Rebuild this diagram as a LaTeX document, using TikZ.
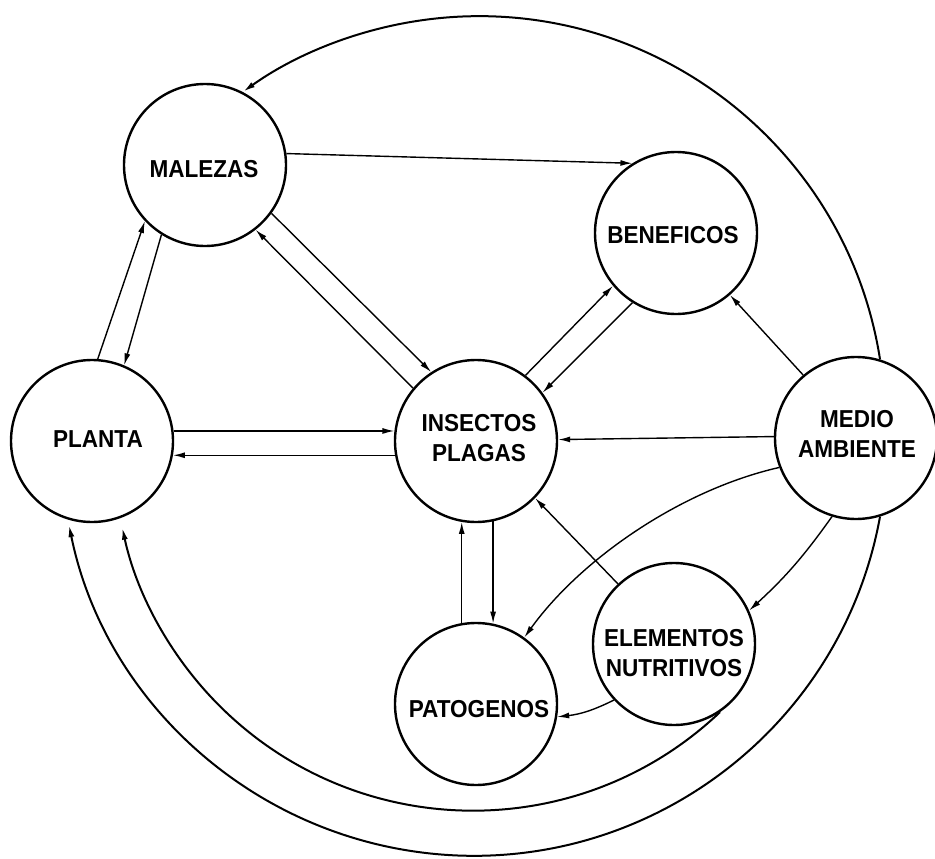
\documentclass[tikz,border=0pt]{standalone}
\usepackage{fontspec}
\newfontfamily\lblfont{Liberation Sans}[FakeStretch=0.92]
\usetikzlibrary{arrows.meta}
\begin{document}
\begin{tikzpicture}[x=1pt,y=1pt,
  stage/.style={circle, draw, line width=2.4pt, minimum size=162pt, inner sep=0pt},
  lbl/.style={font=\lblfont\bfseries\fontsize{24.5}{30}\selectfont, align=center, inner sep=0pt},
  conn/.style={line width=1.4pt, -{Latex[length=12pt,width=6pt]}},
  ring/.style={line width=2pt, -{Latex[length=12pt,width=6pt]}}]
\useasboundingbox (0,0) rectangle (935,-859);

% components of the system
\node[stage] (mal) at (205,-165) {};
\node[stage] (ben) at (676,-233) {};
\node[stage] (pla) at (92,-441) {};
\node[stage] (ins) at (476,-441) {};
\node[stage] (med) at (856,-438) {};
\node[stage] (ele) at (674,-644) {};
\node[stage] (pat) at (476,-704) {};

% labels
\node[lbl] (tmal) at (204,-169) {MALEZAS};
\node[lbl] (tben) at (673,-235) {BENEFICOS};
\node[lbl] (tpla) at (98,-439) {PLANTA};
\node[lbl] (tins) at (479,-438) {INSECTOS\\PLAGAS};
\node[lbl] (tmed) at (857,-434) {MEDIO\\AMBIENTE};
\node[lbl] (tele) at (674,-653) {ELEMENTOS\\NUTRITIVOS};
\node[lbl] (tpat) at (479,-709) {PATOGENOS};

% straight interactions
\draw[conn] (mal.8) -- (ben.122);
\draw[conn] (pla.86) -- (mal.223);
\draw[conn] (mal.238) -- (pla.67);
\draw[conn] (mal.-36) -- (ins.123);
\draw[conn] (ins.140) -- (mal.-52);
\draw[conn] (ins.53) -- (ben.220);
\draw[conn] (ben.238) -- (ins.36);
\draw[conn] (med.130) -- (ben.-49);
\draw[conn] (pla.7) -- (ins.173);
\draw[conn] (ins.190) -- (pla.-10);
\draw[conn] (med.179) -- (ins.1);
\draw[conn] (ele.133) -- (ins.-44);
\draw[conn] (pat.100) -- (ins.260);
\draw[conn] (ins.-78) -- (pat.78);

% curved interactions
\draw[conn] (med.201) .. controls (680,-490) and (580,-560) .. (pat.54);
\draw[conn] (med.253) to[bend left=6] (ele.24);
\draw[conn] (ele.223) to[bend left=10] (pat.-9);

% long outer loops
\draw[ring] (med.73) arc[start angle=8.9, end angle=125.5, radius=406];
\draw[ring] (med.-73) arc[start angle=-10.3, end angle=-168.5, radius=413];
\draw[ring] (ele.-56) arc[start angle=-46.5, end angle=-167.8, radius=358.8];
\end{tikzpicture}
\end{document}
